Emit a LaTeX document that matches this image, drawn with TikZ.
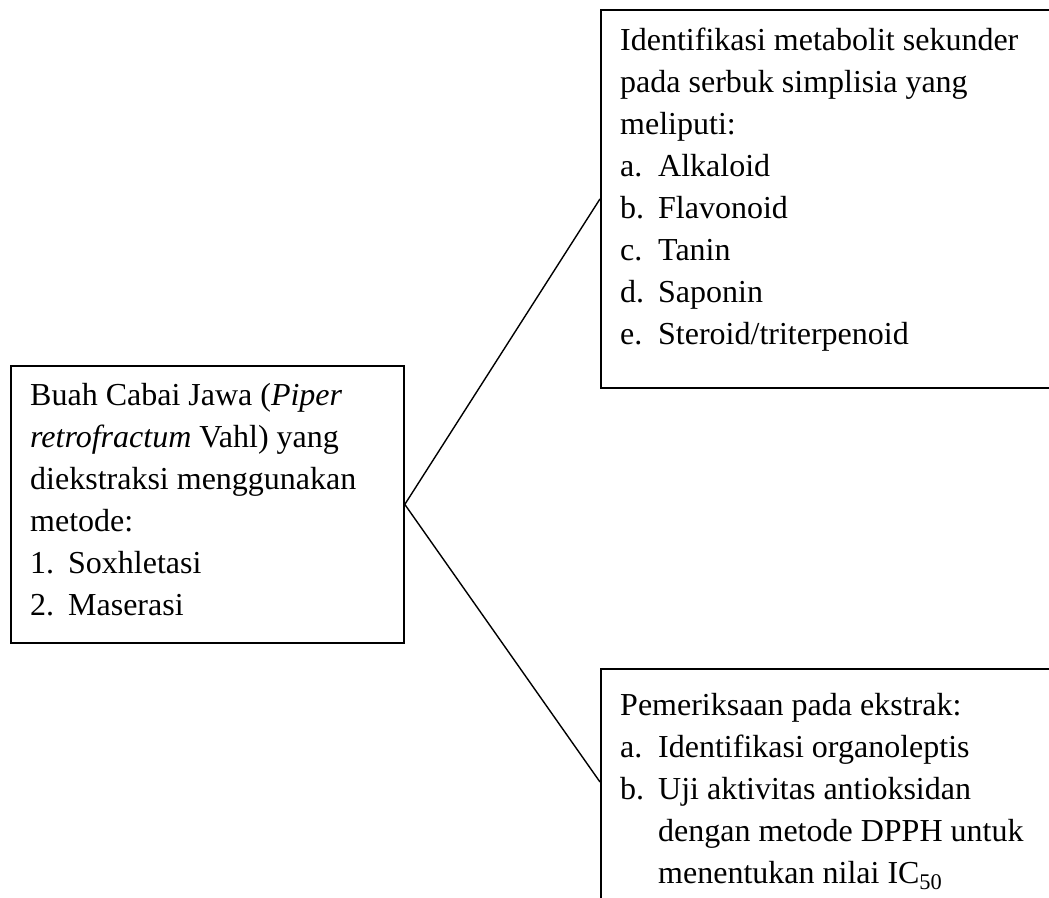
\documentclass[tikz,border=0pt]{standalone}
\usepackage{fontspec}
\setmainfont{Liberation Serif}
\newcommand\lbl[1]{\makebox[38pt][l]{#1}}
\begin{document}
\begin{tikzpicture}[x=1pt,y=-1pt,
  box/.style={draw, line width=1.8pt, rectangle, inner sep=0pt, anchor=north west},
  txt/.style={font=\fontsize{32}{42}\selectfont, align=left, inner sep=0pt, anchor=base west},
  link/.style={line width=1.4pt}]
\useasboundingbox (0,0) rectangle (1049,897);
\node[box, minimum width=393pt, minimum height=277pt] (src) at (10,365) {};
\node[box, minimum width=470pt, minimum height=378pt] (sek) at (600,9) {};
\node[box, minimum width=470pt, minimum height=260pt] (ext) at (600,668) {};
\coordinate (extin) at ([yshift=-114pt]ext.north west);
% anchor base west = baseline of the last line
\node[txt] (srct) at (30,615) {Buah Cabai Jawa (\textit{Piper}\\
\textit{retrofractum} Vahl) yang\\
diekstraksi menggunakan\\
metode:\\
\lbl{1.}Soxhletasi\\
\lbl{2.}Maserasi};
\node[txt] (sekt) at (620,344) {Identifikasi metabolit sekunder\\
pada serbuk simplisia yang\\
meliputi:\\
\lbl{a.}Alkaloid\\
\lbl{b.}Flavonoid\\
\lbl{c.}Tanin\\
\lbl{d.}Saponin\\
\lbl{e.}Steroid/triterpenoid};
\node[txt] (extt) at (620,883) {Pemeriksaan pada ekstrak:\\
\lbl{a.}Identifikasi organoleptis\\
\lbl{b.}Uji aktivitas antioksidan\\
\hspace*{38pt}dengan metode DPPH untuk\\
\hspace*{38pt}menentukan nilai IC\textsubscript{50}};
\draw[link] (src.east) -- (sek.west);
\draw[link] (src.east) -- (extin);
\end{tikzpicture}
\end{document}
